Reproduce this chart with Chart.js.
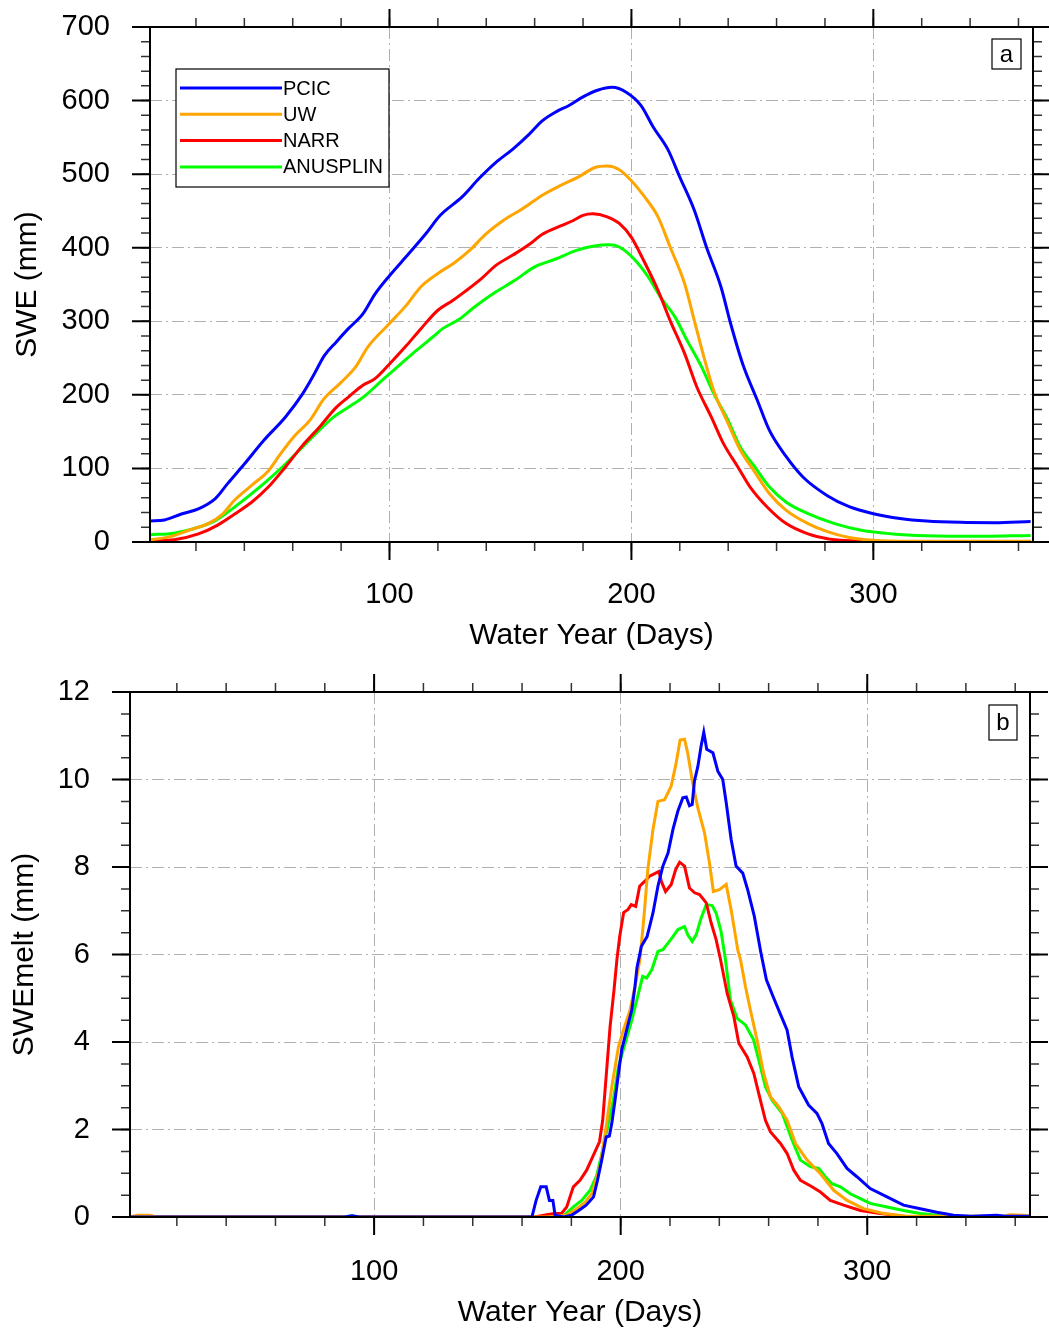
<!DOCTYPE html>
<html>
<head>
<meta charset="utf-8">
<script src="https://cdn.jsdelivr.net/npm/chart.js@4.4.1/dist/chart.umd.min.js"></script>
<style>
  html, body { margin: 0; padding: 0; background: #fff; }
  #top { position: absolute; left: 0; top: 0; width: 1049px; height: 660px; }
  #bot { position: absolute; left: 0; top: 660px; width: 1049px; height: 671px; }
</style>
</head>
<body>
<div id="top"><canvas id="sweChart"></canvas></div>
<div id="bot"><canvas id="meltChart"></canvas></div>
<script>
// series names and colours
const seriesNames = ['PCIC', 'UW', 'NARR', 'ANUSPLIN']
const seriesColors = ['#0000ff', '#ffa500', '#ff0000', '#00ff00']

// tick labels
const dayTicks = [100, 200, 300]

// panel a: SWE (mm), [water-year day, value]
const swePCIC = [[1,28.5],[7,30],[14,38],[21,45],[28,59],[33,79],[40,106],[48,138],[57,170],[64,201],[69,229],[73,253],[78,272],[83,290],[89,310],[94,337],[100,362],[108,392],[115,419],[121,444],[130,469],[137,494],[144,516],[151,534],[158,555],[163,572],[169,585],[174,593],[180,605],[186,614],[192,618],[198,611],[204,593],[209,564],[215,534],[220,496],[226,451],[231,401],[237,347],[241,297],[246,242],[252,193],[257,152],[264,116],[271,88],[281,63],[290,48],[300,38.5],[311,32],[322,28.5],[336,26.7],[350,26.3],[365,28]]
const sweUW = [[1,3],[9,7],[17,16],[25,25],[31,38],[36,57],[43,77],[50,97],[55,120],[61,145],[67,165],[73,195],[80,217],[86,238],[91,265],[100,297],[107,322],[113,347],[120,365],[127,380],[133,396],[140,419],[147,437],[155,453],[163,471],[171,485],[178,496],[185,509],[190,511],[195,506],[200,491],[205,471],[211,442],[216,401],[222,351],[226,301],[230,251],[234,206],[240,161],[245,125],[251,95],[257,66],[264,43],[273,25],[281,14],[290,6],[300,2.3],[315,1],[365,1]]
const sweNARR = [[1,1.4],[11,3],[21,11],[29,23],[36,38],[43,54],[50,75],[57,102],[64,131],[71,156],[78,183],[83,197],[89,213],[94,222],[100,242],[107,267],[113,290],[120,315],[126,328],[131,340],[138,358],[144,376],[151,390],[158,405],[163,418],[171,430],[176,437],[180,444],[184,446],[190,442],[195,433],[200,414],[205,383],[211,342],[216,301],[222,256],[227,211],[233,170],[238,134],[244,102],[249,75],[256,48],[264,25],[273,11],[281,4.5],[292,1.4],[308,0.5],[365,0.5]]
const sweANUSPLIN = [[1,10],[11,12],[21,20],[28,29],[35,45],[42,63],[49,82],[57,106],[64,129],[71,152],[77,170],[83,183],[90,199],[97,220],[104,240],[111,260],[118,279],[122,290],[129,303],[135,319],[144,340],[152,356],[160,374],[169,385],[177,396],[184,402],[191,404],[195,401],[201,385],[207,360],[212,333],[218,306],[223,274],[229,238],[234,202],[240,165],[245,129],[251,102],[257,75],[264,54],[273,38.5],[284,25],[295,16],[308,11],[322,8.6],[343,7.7],[365,9]]

// panel b: SWE melt (mm), [water-year day, value]
const meltPCIC = [[1,0],[88,0],[91,0.03],[94,0],[164,0],[165.7,0.38],[167.6,0.69],[169.8,0.69],[171.1,0.38],[172.5,0.38],[173.4,0.04],[177,0],[180,0.04],[183,0.15],[186,0.27],[189,0.46],[190.6,0.84],[192.3,1.3],[194.1,1.83],[195.4,1.85],[196.4,2.14],[197.7,2.67],[199.1,3.28],[200.4,3.82],[202.4,4.27],[204.5,4.73],[205.8,5.27],[206.6,5.7],[208.4,6.19],[210.7,6.41],[213.1,6.95],[215.1,7.56],[217.1,8.02],[219.2,8.32],[221.2,8.86],[223.2,9.28],[225.2,9.58],[226.6,9.6],[227.9,9.4],[229,9.43],[229.9,9.96],[231.3,10.3],[232.6,10.76],[233.7,11.08],[234.9,10.69],[237.4,10.61],[239.4,10.19],[241.4,10],[242.8,9.47],[244.8,8.63],[246.8,8.02],[249.5,7.86],[251.5,7.48],[254.2,6.87],[256.9,6.03],[259.1,5.42],[261.8,5.04],[264.3,4.7],[267.5,4.27],[269.5,3.66],[272.2,2.98],[276.2,2.56],[279.6,2.37],[281.6,2.14],[284.3,1.68],[287.7,1.45],[291.8,1.11],[295.8,0.92],[301.2,0.65],[308,0.46],[314.7,0.27],[321.5,0.19],[328.2,0.11],[335,0.04],[342,0.02],[352.5,0.04],[356,0.02],[366,0.02]]
const meltUW = [[1,0],[4,0.04],[9,0.04],[12,0],[170,0],[178,0.04],[182.2,0.19],[185.6,0.34],[188.3,0.53],[191.6,1.15],[194.1,2.06],[196.4,2.98],[199.1,3.89],[201.1,4.27],[203.8,4.73],[205.8,5.27],[207.8,5.88],[209.5,6.9],[211,7.94],[213.1,8.86],[215.1,9.5],[217.8,9.54],[220.5,9.85],[222.5,10.38],[224.1,10.9],[225.9,10.92],[227.2,10.6],[229.2,9.92],[231.3,9.35],[234,8.78],[236,8.09],[237.6,7.44],[240,7.48],[242.8,7.6],[244.8,7.02],[247.5,6.1],[248.6,5.88],[250.6,5.27],[252.6,4.73],[255.3,4.05],[258,3.28],[260.7,2.75],[264.1,2.52],[267.5,2.21],[270.9,1.68],[275.6,1.3],[281,0.99],[286.4,0.61],[291.8,0.38],[298.5,0.19],[306.6,0.08],[316,0.02],[355,0.02],[358,0.05],[363,0.04],[366,0.02]]
const meltNARR = [[1,0],[165,0],[170,0.05],[173,0.08],[176,0.08],[178.1,0.23],[180.8,0.69],[183.5,0.84],[186.2,1.07],[188.9,1.41],[191.4,1.72],[192.7,2.21],[194.1,3.21],[195.7,4.35],[197.3,5.19],[198.5,5.9],[199.6,6.41],[201.2,6.96],[203,7.03],[204.3,7.14],[206.1,7.1],[207.7,7.56],[209.7,7.67],[211.7,7.79],[213.8,7.85],[215.5,7.9],[216.5,7.67],[218.2,7.44],[220.5,7.6],[222.3,7.94],[223.9,8.11],[225.9,8.02],[227.9,7.52],[230,7.41],[232,7.37],[234.7,7.18],[236.7,6.72],[238.7,6.34],[240.5,5.88],[243.2,5.11],[245.9,4.58],[247.9,3.97],[251.3,3.66],[254,3.28],[256,2.82],[258.7,2.21],[260.7,1.95],[264.8,1.68],[267.5,1.45],[270.2,1.07],[272.9,0.84],[277.6,0.69],[281,0.57],[285,0.38],[290.4,0.27],[297.2,0.15],[305.3,0.08],[314.7,0.02],[366,0]]
const meltANUSPLIN = [[1,0],[88,0],[91,0.03],[94,0],[172,0],[176.8,0.02],[180.8,0.23],[184.2,0.38],[187.6,0.61],[190.3,0.95],[193,1.6],[195,2.14],[197,2.67],[199.1,3.44],[201.8,3.97],[204.5,4.5],[207.2,5.11],[208.9,5.5],[210.5,5.46],[212.6,5.65],[215.1,6.07],[217.1,6.11],[219.2,6.26],[221.2,6.41],[223.2,6.57],[225.9,6.64],[227.2,6.45],[229,6.3],[230.6,6.45],[232.6,6.83],[234.7,7.14],[237.1,7.12],[238.7,6.95],[240.7,6.53],[242.5,5.88],[244.5,4.96],[247.2,4.54],[250.6,4.39],[253.9,4.05],[256,3.59],[258.7,2.98],[261.4,2.67],[265.5,2.37],[269.5,1.76],[272.9,1.3],[276.9,1.15],[280.3,1.11],[283,0.92],[285.7,0.76],[289.1,0.69],[293.1,0.53],[297.2,0.42],[301.2,0.31],[308,0.23],[314.7,0.15],[321.5,0.08],[332.3,0.02],[366,0]]

Chart.defaults.font.family = '"Liberation Sans", Arial, Helvetica, sans-serif'
Chart.defaults.color = '#000'

// NCL-style frame: outward major/minor ticks on all four sides, legend box, panel letter
const frameTicks = {
  id: 'frameTicks',
  afterDraw (chart, args, opts) {
    const { ctx, chartArea: a } = chart
    const xs = chart.scales.x
    const ys = chart.scales.y
    ctx.save()
    const values = (scale, step) => {
      const out = []
      for (let v = Math.ceil(scale.min / step - 1e-9) * step; v <= scale.max + 1e-9; v += step) out.push(+v.toFixed(6))
      return out
    }
    const marks = (scale, step, len, width, color) => {
      ctx.lineWidth = width
      ctx.strokeStyle = color
      ctx.beginPath()
      for (const v of values(scale, step)) {
        const p = scale.getPixelForValue(v)
        if (scale.isHorizontal()) {
          ctx.moveTo(p, a.bottom); ctx.lineTo(p, a.bottom + len)
          ctx.moveTo(p, a.top); ctx.lineTo(p, a.top - len)
        } else {
          ctx.moveTo(a.left, p); ctx.lineTo(a.left - len, p)
          ctx.moveTo(a.right, p); ctx.lineTo(a.right + len, p)
        }
      }
      ctx.stroke()
    }
    marks(xs, opts.xMinor, 9, 1.5, '#333')
    marks(ys, opts.yMinor, 9, 1.5, '#333')
    marks(xs, opts.xMajor, 18, 2, '#000')
    marks(ys, opts.yMajor, 18, 2, '#000')
    ctx.strokeStyle = '#000'
    ctx.lineWidth = 2
    ctx.strokeRect(a.left, a.top, a.right - a.left, a.bottom - a.top)

    // panel letter
    const L = opts.letter
    ctx.lineWidth = 1.2
    ctx.fillStyle = '#fff'
    const bx = a.right - L.dx
    const by = a.top + L.dy
    ctx.fillRect(bx, by, L.w, L.h)
    ctx.strokeRect(bx, by, L.w, L.h)
    ctx.fillStyle = '#000'
    ctx.font = '24px "Liberation Sans", Arial, sans-serif'
    ctx.textAlign = 'center'
    ctx.textBaseline = 'middle'
    ctx.fillText(L.text, bx + L.w / 2, by + L.h / 2 + 1)

    // legend
    if (opts.legend) {
      const g = opts.legend
      ctx.fillStyle = '#fff'
      ctx.fillRect(g.x, g.y, g.w, g.h)
      ctx.lineWidth = 1.2
      ctx.strokeStyle = '#000'
      ctx.strokeRect(g.x, g.y, g.w, g.h)
      ctx.font = '20px "Liberation Sans", Arial, sans-serif'
      ctx.textAlign = 'left'
      ctx.textBaseline = 'middle'
      chart.data.datasets.forEach((ds, i) => {
        const yy = g.y + g.first + i * g.gap
        ctx.strokeStyle = ds.borderColor
        ctx.lineWidth = 3
        ctx.beginPath()
        ctx.moveTo(g.x + 4, yy)
        ctx.lineTo(g.x + 106, yy)
        ctx.stroke()
        ctx.fillStyle = '#000'
        ctx.fillText(ds.label, g.x + 107, yy + 1)
      })
    }
    ctx.restore()
  }
}

function makeChart (id, series, cfg) {
  return new Chart(document.getElementById(id), {
    type: 'line',
    data: {
      datasets: series.map((s, i) => ({
        label: seriesNames[i],
        data: s.map(([x, y]) => ({ x, y })),
        borderColor: seriesColors[i],
        backgroundColor: seriesColors[i],
        borderWidth: 3,
        pointRadius: 0,
        fill: false,
        tension: cfg.tension,
        cubicInterpolationMode: cfg.cubic ? 'monotone' : 'default'
      }))
    },
    options: {
      responsive: true,
      maintainAspectRatio: false,
      animation: false,
      devicePixelRatio: 1,
      layout: { padding: { top: cfg.padTop, right: cfg.padRight, left: 0, bottom: 0 } },
      plugins: {
        legend: { display: false },
        tooltip: { enabled: false },
        frameTicks: cfg.frame
      },
      scales: {
        x: {
          type: 'linear',
          min: 1,
          max: 366,
          afterBuildTicks: s => { s.ticks = dayTicks.map(v => ({ value: v })) },
          afterFit: s => { s.height = cfg.xHeight; s.paddingLeft = 0; s.paddingRight = 0 },
          grid: { color: '#b0b0b0', lineWidth: 1, drawTicks: false },
          border: { display: false, dash: [12, 4, 2, 4] },
          ticks: { font: { size: 29 }, padding: cfg.xPad, maxRotation: 0, autoSkip: false },
          title: { display: true, text: 'Water Year (Days)', font: { size: 30 }, padding: { top: 0, bottom: cfg.xTitlePad } }
        },
        y: {
          min: cfg.yMin,
          max: cfg.yMax,
          afterFit: s => { s.width = cfg.yWidth; s.paddingTop = 0; s.paddingBottom = 0 },
          grid: { color: '#b0b0b0', lineWidth: 1, drawTicks: false },
          border: { display: false, dash: [12, 4, 2, 4] },
          ticks: { stepSize: cfg.yStep, font: { size: 29 }, padding: 40 },
          title: { display: true, text: cfg.yTitle, font: { size: 30 }, padding: { top: cfg.yTitlePad, bottom: 0 } }
        }
      }
    },
    plugins: [frameTicks]
  })
}

makeChart('sweChart', [swePCIC, sweUW, sweNARR, sweANUSPLIN], {
  tension: 0.4, cubic: true,
  padTop: 27, padRight: 16, xHeight: 118, yWidth: 150,
  xPad: 36, xTitlePad: 6, yTitlePad: 10,
  yMin: 0, yMax: 700, yStep: 100, yTitle: 'SWE (mm)',
  frame: {
    xMinor: 20, xMajor: 100, yMinor: 20, yMajor: 100,
    letter: { text: 'a', dx: 41, dy: 12, w: 29, h: 30 },
    legend: { x: 176, y: 69, w: 213, h: 118, first: 19, gap: 26.3 }
  }
})

makeChart('meltChart', [meltPCIC, meltUW, meltNARR, meltANUSPLIN], {
  tension: 0, cubic: false,
  padTop: 32, padRight: 19, xHeight: 114, yWidth: 130,
  xPad: 38, xTitlePad: 0, yTitlePad: 7,
  yMin: 0, yMax: 12, yStep: 2, yTitle: 'SWEmelt (mm)',
  frame: {
    xMinor: 20, xMajor: 100, yMinor: 0.5, yMajor: 2,
    letter: { text: 'b', dx: 41, dy: 13, w: 28, h: 35 }
  }
})
</script>
</body>
</html>
